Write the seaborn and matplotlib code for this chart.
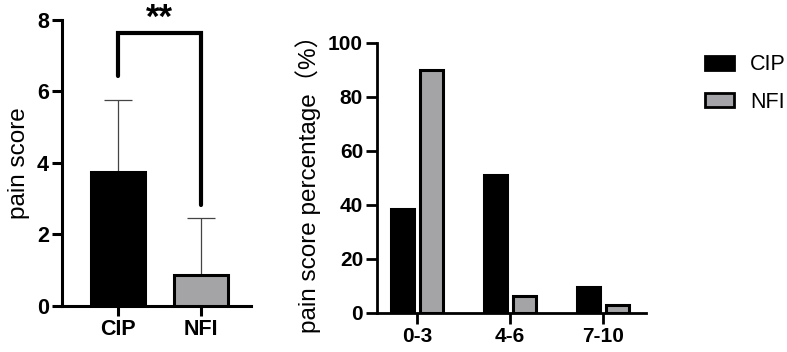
import numpy as np
import pandas as pd
import matplotlib
matplotlib.use('Agg')
import matplotlib.pyplot as plt
import seaborn as sns
from matplotlib.patches import Patch

# datos: puntuacion media de dolor (+DE)
groups = ['CIP', 'NFI']
mean_score = [3.75, 0.88]
sd_score = [2.02, 1.57]

# porcentaje por rango de dolor
ranges = ['0-3', '4-6', '7-10']
pct_cip = [38.5, 51.2, 9.6]
pct_nfi = [90.0, 6.3, 3.0]

colors = {'CIP': '#000000', 'NFI': '#a3a3a8'}

sns.set_theme(style='ticks')
plt.rcParams['font.family'] = ['Liberation Sans', 'DejaVu Sans']
plt.rcParams['text.color'] = 'black'
plt.rcParams['axes.labelcolor'] = 'black'
plt.rcParams['xtick.color'] = 'black'
plt.rcParams['ytick.color'] = 'black'
plt.rcParams['axes.edgecolor'] = 'black'

fig = plt.figure(figsize=(7.87, 3.52), dpi=100)
ax1 = fig.add_axes([0.0788, 0.1307, 0.2401, 0.8125])
ax2 = fig.add_axes([0.479, 0.111, 0.342, 0.767])

# panel izquierdo
df1 = pd.DataFrame({'group': groups, 'score': mean_score})
sns.barplot(data=df1, x='group', y='score', hue='group', palette=colors,
            width=0.65, edgecolor='black', linewidth=2.2, legend=False,
            errorbar=None, ax=ax1, zorder=3)
xpos = np.arange(len(groups))
ax1.errorbar(xpos, mean_score, yerr=[np.zeros(len(groups)), sd_score],
             fmt='none', ecolor='#444444', elinewidth=0.9, capsize=10,
             capthick=0.9, zorder=2)

ax1.set_ylim(0, 8)
ax1.set_xlim(-0.67, 1.60)
ax1.set_yticks([0, 2, 4, 6, 8])
ax1.set_xlabel('')
ax1.set_ylabel('pain score', fontsize=17.5, labelpad=5)
ax1.tick_params(axis='both', labelsize=15.5, width=2.2, length=7.5, pad=2)
for lab in ax1.get_xticklabels() + ax1.get_yticklabels():
    lab.set_fontweight('bold')
for s in ['left', 'bottom']:
    ax1.spines[s].set_linewidth(2.2)
sns.despine(ax=ax1)

# corchete de significancia
ax1.plot([xpos[0], xpos[0], xpos[1], xpos[1]], [6.43, 7.64, 7.64, 2.83],
         color='black', lw=3, clip_on=False, solid_joinstyle='miter')
ax1.text(np.mean(xpos), 8.05, '**', ha='center', va='center',
         fontsize=25, fontweight='bold', clip_on=False)

# panel derecho
df2 = pd.DataFrame({
    'range': ranges * 2,
    'group': ['CIP'] * len(ranges) + ['NFI'] * len(ranges),
    'pct': pct_cip + pct_nfi,
})
sns.barplot(data=df2, x='range', y='pct', hue='group', palette=colors,
            width=0.62, gap=0.2, edgecolor='black', linewidth=2.2,
            errorbar=None, ax=ax2, legend=False)
ax2.set_ylim(0, 100)
ax2.set_xlim(-0.43, 2.46)
ax2.set_yticks([0, 20, 40, 60, 80, 100])
ax2.set_xlabel('')
ax2.set_ylabel('pain score percentage（%）', fontsize=17.5, labelpad=5,
               family=['Liberation Sans', 'Noto Sans CJK SC'])
ax2.tick_params(axis='both', labelsize=15, width=2.0, length=8, pad=2)
for lab in ax2.get_xticklabels() + ax2.get_yticklabels():
    lab.set_fontweight('bold')
for s in ['left', 'bottom']:
    ax2.spines[s].set_linewidth(2.0)
sns.despine(ax=ax2)

handles = [Patch(facecolor=colors[g], edgecolor='black', linewidth=2.0, label=g)
           for g in groups]
fig.legend(handles=handles, loc='upper left', bbox_to_anchor=(0.885, 0.87),
           frameon=False, fontsize=15.5, handlelength=1.35, handleheight=0.65,
           handletextpad=0.75, labelspacing=0.75, borderaxespad=0)

fig.savefig('out.png', dpi=100)
